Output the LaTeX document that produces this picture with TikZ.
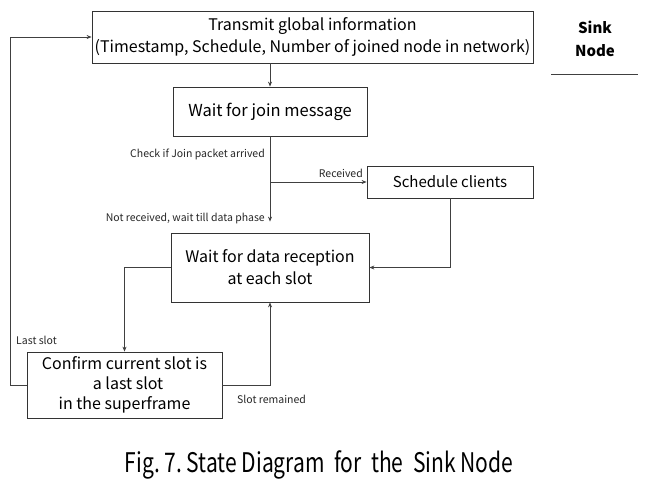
\documentclass[tikz,border=0pt]{standalone}
\usepackage{fontspec}
\setmainfont{Noto Sans CJK KR}
\newfontfamily\capfont[FakeStretch=0.78]{Noto Sans CJK KR}
\usetikzlibrary{arrows.meta}
\begin{document}
\begin{tikzpicture}[x=1pt,y=-1pt,
  state/.style={draw=black!80,line width=0.8pt,inner sep=0pt,align=center,
    font=\fontsize{16}{22}\selectfont},
  conn/.style={draw=black!75,line width=0.8pt},
  arr/.style={conn,-{Stealth[length=5pt,width=4pt]}},
  lbl/.style={font=\fontsize{10.5}{12}\selectfont,inner sep=0pt,text=black!85}]
\useasboundingbox (0,0) rectangle (658,483);
\node[state,minimum width=441pt,minimum height=52pt] (b1) at (312.5,37) {Transmit global information\\(Timestamp, Schedule, Number of joined node in network)};
\node[state,minimum width=194pt,minimum height=49pt,font=\fontsize{16.5}{22}\selectfont] (b2) at (270,111.5) {Wait for join message};
\node[state,minimum width=166pt,minimum height=32pt,font=\fontsize{15}{20}\selectfont] (sc) at (450,182) {Schedule clients};
\node[state,minimum width=198pt,minimum height=69pt] (b3) at (270,267.5) {Wait for data reception\\at each slot};
\node[state,minimum width=195pt,minimum height=66pt,font=\fontsize{16}{20}\selectfont] (b4) at (124.5,385) {Confirm current slot is\\\ \ a last slot\\in the superframe};
\coordinate (br) at (270,182);
\draw[arr] (b2.north |- b1.south) -- (b2.north);
\draw[arr,shorten >=11pt] (b2.south) -- (b3.north);
\draw[arr] (br) -- (sc.west);
\draw[arr] (sc.south) |- (b3.east);
\draw[arr] (b3.west) -| (b4.north);
\draw[arr] (b4.east) -| (b3.south);
\draw[arr] (b4.west) -- ++(-16,0) |- (b1.west);
\node[lbl,anchor=east] (l1) at (265,154) {Check if Join packet arrived};
\node[lbl,anchor=south east] (l2) at (363,178) {Received};
\node[lbl,anchor=east] (l3) at (265,219) {Not received, wait till data phase};
\node[lbl,anchor=west] (l4) at (16,340) {Last slot};
\node[lbl,anchor=west] (l5) at (237,399) {Slot remained};
\node[font=\bfseries\fontsize{15}{23}\selectfont,align=center,inner sep=0pt] (sink) at (595,38.5) {Sink\\Node};
\coordinate (u1) at (551,74);
\coordinate (u2) at (638,74);
\draw[conn] (u1) -- (u2);
\node[font=\capfont\fontsize{27}{30}\selectfont,inner sep=0pt] (cap) at (319,465) {Fig.\ 7.\ State Diagram \ for \ the \ Sink Node};
\end{tikzpicture}
\end{document}
